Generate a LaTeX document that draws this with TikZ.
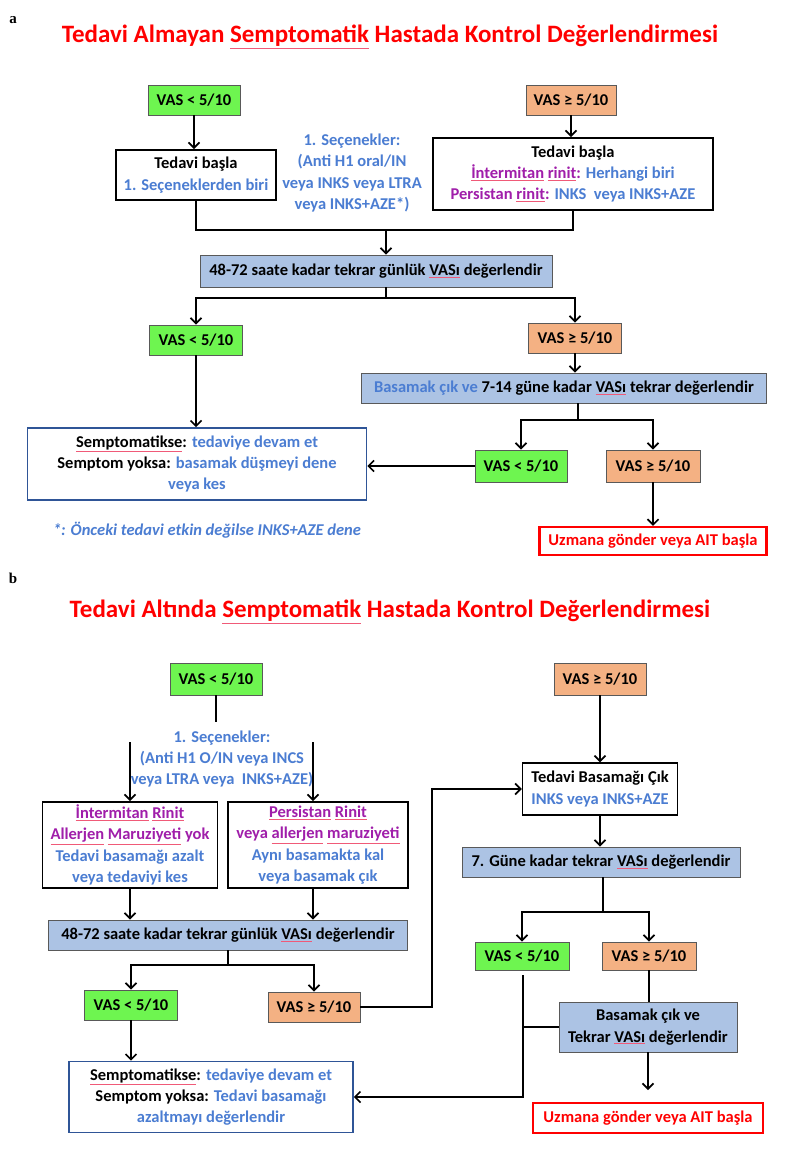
\documentclass[tikz,border=0pt]{standalone}
\usepackage{fontspec}
\setmainfont{Carlito}
\newfontfamily\seriflab{Liberation Serif}
\usetikzlibrary{arrows.meta}
\definecolor{vgreen}{RGB}{110,245,80}
\definecolor{vorange}{RGB}{244,177,131}
\definecolor{vblue}{RGB}{172,195,228}
\definecolor{tblue}{RGB}{75,125,210}
\definecolor{tpurple}{RGB}{160,30,170}
\definecolor{sblue}{RGB}{47,85,151}
\definecolor{sqcol}{RGB}{240,90,120}
\newcommand\sq[1]{\begingroup\colorlet{sqcur}{.}\color{sqcol}\underline{\color{sqcur}#1}\endgroup}
\begin{document}
\begin{tikzpicture}[x=1pt,y=-1pt,
  every node/.style={inner sep=0pt, align=center, font=\bfseries\fontsize{16.5}{21.3}\selectfont},
  gbx/.style={draw=black!65, line width=0.9pt, fill=vgreen, minimum height=30pt, minimum width=92pt},
  obx/.style={draw=black!65, line width=0.9pt, fill=vorange, minimum height=30pt, minimum width=92pt},
  bbx/.style={draw=black!65, line width=0.9pt, fill=vblue, minimum height=30pt},
  wbx/.style={draw=black, line width=1.8pt, fill=white},
  sbx/.style={draw=sblue, line width=1.6pt, fill=white},
  rbx/.style={draw=red, line width=2.2pt, fill=white, text=red},
  ttl/.style={text=red, font=\bfseries\fontsize{25}{30}\selectfont},
  lab/.style={font=\seriflab\bfseries\fontsize{15}{15}\selectfont},
  ar/.style={-{Straight Barb[length=5.5pt,width=11pt]}, line width=1.7pt},
  ln/.style={line width=1.7pt}]
\fill[white] (0,0) rectangle (789,1150);
\useasboundingbox (0,0) rectangle (789,1150);

% ---------------- panel a ----------------
\node[lab] (la) at (13,20) {a};
\node[ttl] (ta) at (390,37) {Tedavi Almayan \sq{Semptomatik} Hastada Kontrol Değerlendirmesi};
\node[gbx] (g1) at (194,100) {VAS < 5/10};
\node[obx, minimum width=90pt] (o1) at (571,100) {VAS ≥ 5/10};
\node[wbx, minimum width=160pt, minimum height=50pt] (t1) at (196,175) {Tedavi başla\\\color{tblue}1. Seçeneklerden biri};
\node[text=tblue] (opt1) at (352,173) {1. Seçenekler:\\(Anti H1 oral/IN\\veya INKS veya LTRA\\veya INKS+AZE*)};
\node[wbx, minimum width=280pt, minimum height=72pt] (t2) at (573,174) {Tedavi başla\\{\color{tpurple}\sq{İntermitan} \sq{rinit}:} {\color{tblue}Herhangi biri}\\{\color{tpurple}Persistan \sq{rinit}:} {\color{tblue}INKS\ \ veya INKS+AZE}};
\draw[ar] (g1.south) -- (g1.south |- t1.north);
\draw[ar] (o1.south) -- (o1.south |- t2.north);
\node[bbx, minimum width=352pt, minimum height=32pt] (m1) at (376,271) {48-72 saate kadar tekrar günlük \sq{VASı} değerlendir};
\coordinate (j1) at (386,230);
\draw[ln] (t1.south) -- (t1.south |- j1) -- (t2.south |- j1) -- (t2.south);
\draw[ar] (j1) -- (j1 |- m1.north);
\node[gbx, minimum width=93pt] (g2) at (196,340) {VAS < 5/10};
\node[obx, minimum width=93pt] (o2) at (575,338) {VAS ≥ 5/10};
\coordinate (j2) at (386,298);
\draw[ln] (j1 |- m1.south) -- (j2);
\draw[ar] (j2) -| (g2.north);
\draw[ar] (j2) -| (o2.north);
\node[bbx, minimum width=405pt] (b1) at (564,388) {{\color{tblue}Basamak çık ve} 7-14 güne kadar \sq{VASı} tekrar değerlendir};
\draw[ar] (o2.south) -- (o2.south |- b1.north);
\node[sbx, minimum width=339pt, minimum height=72pt] (s1) at (197,464) {\sq{Semptomatikse}: {\color{tblue}tedaviye devam et}\\Semptom yoksa: {\color{tblue}basamak düşmeyi dene}\\{\color{tblue}veya kes}};
\draw[ar] (g2.south) -- (g2.south |- s1.north);
\node[gbx, minimum height=32pt] (g3) at (521,466) {VAS < 5/10};
\node[obx, minimum height=32pt, minimum width=94pt] (o3) at (653,466) {VAS ≥ 5/10};
\coordinate (j3) at (578,420);
\draw[ln] (b1.south -| j3) -- (j3);
\draw[ar] (j3) -| (g3.north);
\draw[ar] (j3) -| (o3.north);
\draw[ar] (g3.west) -- (s1.east |- g3.west);
\node[rbx, minimum width=227pt, minimum height=28pt] (u1) at (653,541) {Uzmana gönder veya AIT başla};
\draw[ar] (o3.south) -- (o3.south |- u1.north);
\node[text=tblue, font=\bfseries\itshape\fontsize{16.5}{21}\selectfont] (fn) at (207,530) {*: Önceki tedavi etkin değilse INKS+AZE dene};

% ---------------- panel b ----------------
\node[lab] (lb) at (13,578) {b};
\node[ttl] (tb) at (390,612) {Tedavi Altında \sq{Semptomatik} Hastada Kontrol Değerlendirmesi};
\node[gbx, minimum height=32pt] (g4) at (216,679) {VAS < 5/10};
\node[obx, minimum height=32pt] (o4) at (600,679) {VAS ≥ 5/10};
\coordinate (g4e) at (216,722);
\draw[ln] (g4.south) -- (g4e);
\node[text=tblue] (opt2) at (222,759) {1. Seçenekler:\\(Anti H1 O/IN veya INCS\\veya LTRA veya\ \ INKS+AZE)};
\coordinate (a1) at (130,742);
\coordinate (a2) at (313,742);
\node[wbx, minimum width=175pt, minimum height=86pt] (l1) at (130,845) {\color{tpurple}\sq{İntermitan} \sq{Rinit}\\\color{tpurple}\sq{Allerjen} \sq{Maruziyeti} yok\\\color{tblue}Tedavi basamağı azalt\\\color{tblue}veya tedaviyi kes};
\node[wbx, minimum width=180pt, minimum height=86pt] (r1) at (318,845) {\color{tpurple}\sq{Persistan} \sq{Rinit}\\\color{tpurple}veya \sq{allerjen} \sq{maruziyeti}\\\color{tblue}Aynı basamakta kal\\\color{tblue}veya basamak çık};
\draw[ar] (a1) -- (a1 |- l1.north);
\draw[ar] (a2) -- (a2 |- r1.north);
\node[bbx, minimum width=359pt] (m2) at (228,935) {48-72 saate kadar tekrar günlük \sq{VASı} değerlendir};
\draw[ar] (a1 |- l1.south) -- (a1 |- m2.north);
\draw[ar] (a2 |- r1.south) -- (a2 |- m2.north);
\node[gbx, minimum width=93pt] (g5) at (131,1005) {VAS < 5/10};
\node[obx] (o5) at (314,1007) {VAS ≥ 5/10};
\coordinate (j4) at (228,965);
\draw[ln] (m2.south) -- (j4);
\draw[ar] (j4) -| (g5.north);
\draw[ar] (j4) -| (o5.north);
\node[sbx, minimum width=284pt, minimum height=71pt] (s2) at (211,1097) {\sq{Semptomatikse}: {\color{tblue}tedaviye devam et}\\Semptom yoksa: {\color{tblue}Tedavi basamağı}\\{\color{tblue}azaltmayı değerlendir}};
\draw[ar] (g5.south) -- (g5.south |- s2.north);
\node[draw=black, line width=1.4pt, fill=white, minimum width=155pt, minimum height=52pt] (t3) at (600,789) {Tedavi Basamağı Çık\\\color{tblue}INKS veya INKS+AZE};
\draw[ar] (o4.south) -- (o4.south |- t3.north);
\coordinate (k1) at (432,1007);
\draw[ar] (o5.east) -- (k1) |- (t3.west);
\node[bbx, minimum width=278pt] (m3) at (601,862) {7. Güne kadar tekrar \sq{VASı} değerlendir};
\draw[ar] (t3.south) -- (t3.south |- m3.north);
\node[gbx, minimum width=94pt, minimum height=28pt] (g6) at (522,956) {VAS < 5/10};
\node[obx, minimum width=94pt, minimum height=28pt] (o6) at (649,956) {VAS ≥ 5/10};
\coordinate (j5) at (603,912);
\draw[ln] (m3.south -| j5) -- (j5);
\draw[ar] (j5) -| (g6.north);
\draw[ar] (j5) -| (o6.north);
\node[bbx, minimum width=178pt, minimum height=50pt] (b2) at (648,1027) {Basamak çık ve\\Tekrar \sq{VASı} değerlendir};
\draw[ln] (o6.south) -- (o6.south |- b2.north);
\node[rbx, minimum width=230pt, minimum height=30pt] (u2) at (648,1118) {Uzmana gönder veya AIT başla};
\coordinate (u2a) at (648,1090);
\draw[ar] (b2.south) -- (u2a);
\coordinate (g6b) at (523,975);
\coordinate (k2) at (523,1097);
\draw[ar] (g6b) -- (k2) -- (s2.east |- k2);
\draw[ln] (b2.west) -- (b2.west -| k2);
\end{tikzpicture}
\end{document}
